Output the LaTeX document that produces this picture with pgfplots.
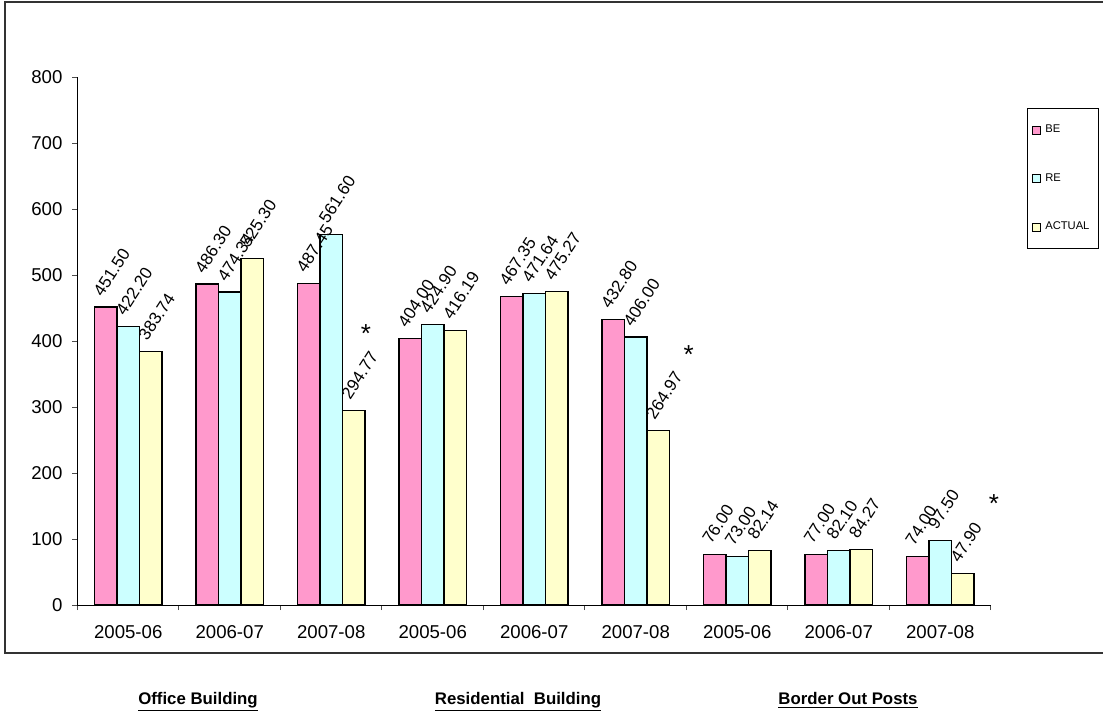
\documentclass[border=0pt]{standalone}
\usepackage{fontspec}
\setmainfont{Liberation Sans}
\usepackage{pgfplots}
\usepackage{pgfplotstable}
\pgfplotsset{compat=1.18}

\definecolor{bePink}{HTML}{FF99CC}
\definecolor{reCyan}{HTML}{CCFFFF}
\definecolor{acYellow}{HTML}{FFFFCC}

% Expenditure by year (Rs. in crore): budget estimate, revised estimate, actual
\pgfplotstableread{
x BE RE ACTUAL
0 451.50 422.20 383.74
1 486.30 474.34 525.30
2 487.45 561.60 294.77
3 404.00 424.90 416.19
4 467.35 471.64 475.27
5 432.80 406.00 264.97
6 76.00 73.00 82.14
7 77.00 82.10 84.27
8 74.00 97.50 47.90
}\datatable

\begin{document}
\begin{tikzpicture}
\useasboundingbox (0,0) rectangle (551.5pt,-356.5pt);
% outer chart frame
\draw[black!80, line width=1pt] (2.5pt,-1pt) rectangle (600pt,-326.5pt);

\begin{axis}[
  at={(38.75pt,-302.5pt)}, anchor=south west,
  scale only axis, width=456.75pt, height=264pt,
  clip=false,
  xmin=-0.5, xmax=8.5, ymin=0, ymax=800,
  axis x line*=bottom, axis y line*=left,
  axis line style={black, line width=0.5pt},
  ytick={0,100,...,800},
  xtick={0,...,8},
  xticklabels={2005-06,2006-07,2007-08,2005-06,2006-07,2007-08,2005-06,2006-07,2007-08},
  major x tick style={draw=none},
  minor xtick={-0.5,0.5,...,8.5},
  tick align=outside,
  major tick length=2.5pt, minor tick length=2.5pt,
  tick style={black!70, line width=0.5pt},
  ticklabel style={font=\fontsize{9.3}{11}\selectfont},
  xticklabel style={yshift=-4pt},
  yticklabel style={xshift=-1.5pt},
  /pgf/number format/assume math mode=true,
  ybar=0pt, bar width=0.2217,
  nodes near coords={\pgfmathprintnumber[fixed,fixed zerofill,precision=2]{\pgfplotspointmeta}},
  every node near coord/.append style={font=\fontsize{8.5}{10}\selectfont,
    xshift=-1.5pt, yshift=4.5pt, rotate=57, anchor=south west, inner sep=0pt},
  legend style={at={(axis description cs:1.0394,0.941)}, anchor=north west,
    draw=black, line width=0.5pt, font=\fontsize{5.6}{6.5}\selectfont,
    inner xsep=2.5pt, inner ysep=6pt, row sep=15pt},
  legend cell align=left,
  legend image code/.code={\draw[#1, line width=0.4pt] (0pt,-2pt) rectangle (4pt,2pt);},
]
\addplot[fill=bePink, draw=black, line width=0.6pt, bar shift=-0.2217] table[x=x,y=BE]{\datatable};
\addplot[fill=reCyan, draw=black, line width=0.6pt, bar shift=0] table[x=x,y=RE]{\datatable};
\addplot[fill=acYellow, draw=black, line width=0.6pt, bar shift=0.2217] table[x=x,y=ACTUAL]{\datatable};
\legend{BE,RE,ACTUAL}

% asterisks marking provisional actuals
\node[font=\fontsize{13}{13}\selectfont, xshift=6.1pt, yshift=38.4pt] at (axis cs:2.2217,294.77) {*};
\node[font=\fontsize{13}{13}\selectfont, xshift=15.2pt, yshift=37.9pt] at (axis cs:5.2217,264.97) {*};
\node[font=\fontsize{13}{13}\selectfont, xshift=15.6pt, yshift=35pt] at (axis cs:8.2217,47.90) {*};
\end{axis}

% category group captions
\node[font=\bfseries\fontsize{8.4}{10}\selectfont, anchor=base] at (99pt,-352pt) {\underline{Office Building}};
\node[font=\bfseries\fontsize{8.4}{10}\selectfont, anchor=base] at (259pt,-352pt) {\underline{Residential~~Building}};
\node[font=\bfseries\fontsize{8.4}{10}\selectfont, anchor=base] at (424pt,-352pt) {\underline{Border Out Posts}};
\end{tikzpicture}
\end{document}
